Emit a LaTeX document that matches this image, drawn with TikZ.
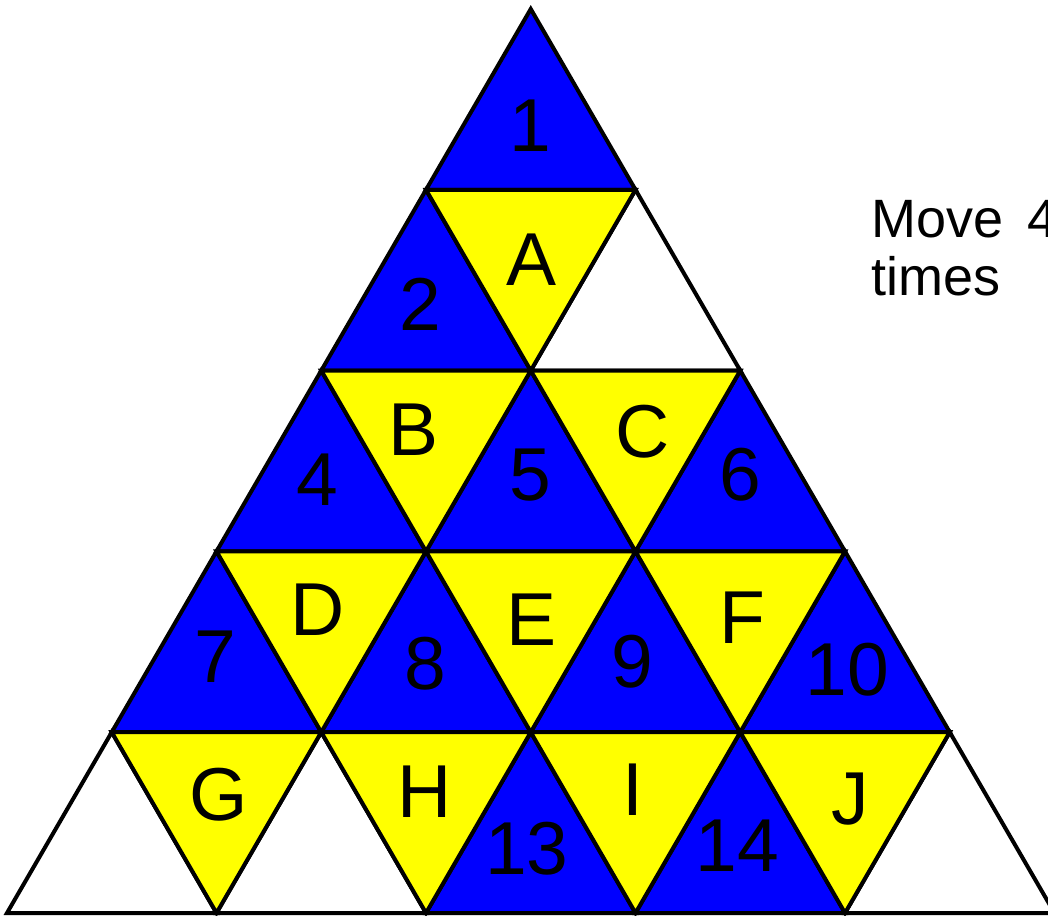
\documentclass[tikz,border=0pt]{standalone}
\usepackage{fontspec}
\setmainfont{Liberation Sans}
\definecolor{triblue}{RGB}{0,0,255}
\definecolor{triyellow}{RGB}{255,255,0}
\begin{document}
\begin{tikzpicture}[x=0.5pt,y=-0.5pt,
  tri/.style={draw=black,line width=2pt,line join=miter},
  lab/.style={font=\fontsize{37.5}{45}\selectfont,inner sep=0pt,text=black},
  note/.style={font=\fontsize{27}{29}\selectfont,inner sep=0pt,align=left,anchor=north west}]
\clip (0,0) rectangle (1048,915);
\fill[white] (0,0) rectangle (1048,915);
% lattice vertices
\foreach \r in {0,...,5}{
  \foreach \k in {0,...,\r}{
    \coordinate (v\r\k) at ({530.75+(\k-\r/2)*209.5},{9+\r*180.8});
  }
}
% upward triangles
\foreach \r/\k/\c [evaluate=\r as \rr using {int(\r+1)}, evaluate=\k as \kk using {int(\k+1)}] in
  {0/0/triblue, 1/0/triblue, 1/1/white, 2/0/triblue, 2/1/triblue, 2/2/triblue,
   3/0/triblue, 3/1/triblue, 3/2/triblue, 3/3/triblue,
   4/0/white, 4/1/white, 4/2/triblue, 4/3/triblue, 4/4/white}
  \filldraw[tri,fill=\c] (v\r\k) -- (v\rr\k) -- (v\rr\kk) -- cycle;
% downward triangles
\foreach \r/\k [evaluate=\r as \rr using {int(\r+1)}, evaluate=\k as \kk using {int(\k+1)}] in
  {1/0, 2/0, 2/1, 3/0, 3/1, 3/2, 4/0, 4/1, 4/2, 4/3}
  \filldraw[tri,fill=triyellow] (v\r\k) -- (v\r\kk) -- (v\rr\kk) -- cycle;
% labels
\node[lab] (n1) at (530,126) {1};
\node[lab] (nA) at (532,260) {A};
\node[lab] (n2) at (420,304) {2};
\node[lab] (nB) at (414,430) {B};
\node[lab] (nC) at (643,432) {C};
\node[lab] (n4) at (317,480) {4};
\node[lab] (n5) at (530,475) {5};
\node[lab] (n6) at (740,475) {6};
\node[lab] (nD) at (318,610) {D};
\node[lab] (nE) at (532,620) {E};
\node[lab] (nF) at (742,618) {F};
\node[lab] (n7) at (215,657) {7};
\node[lab] (n8) at (425,664) {8};
\node[lab] (n9) at (632,662) {9};
\node[lab] (n10) at (847,670) {10};
\node[lab] (nG) at (219,795) {G};
\node[lab] (nH) at (425,792) {H};
\node[lab] (nI) at (633,790) {I};
\node[lab] (nJ) at (850,799) {J};
\node[lab] (n13) at (527,849) {13};
\node[lab] (n14) at (737,846) {14};
\node[note] (move) at (871,200) {Move \hspace{4.5pt}4\\times};
\end{tikzpicture}
\end{document}
